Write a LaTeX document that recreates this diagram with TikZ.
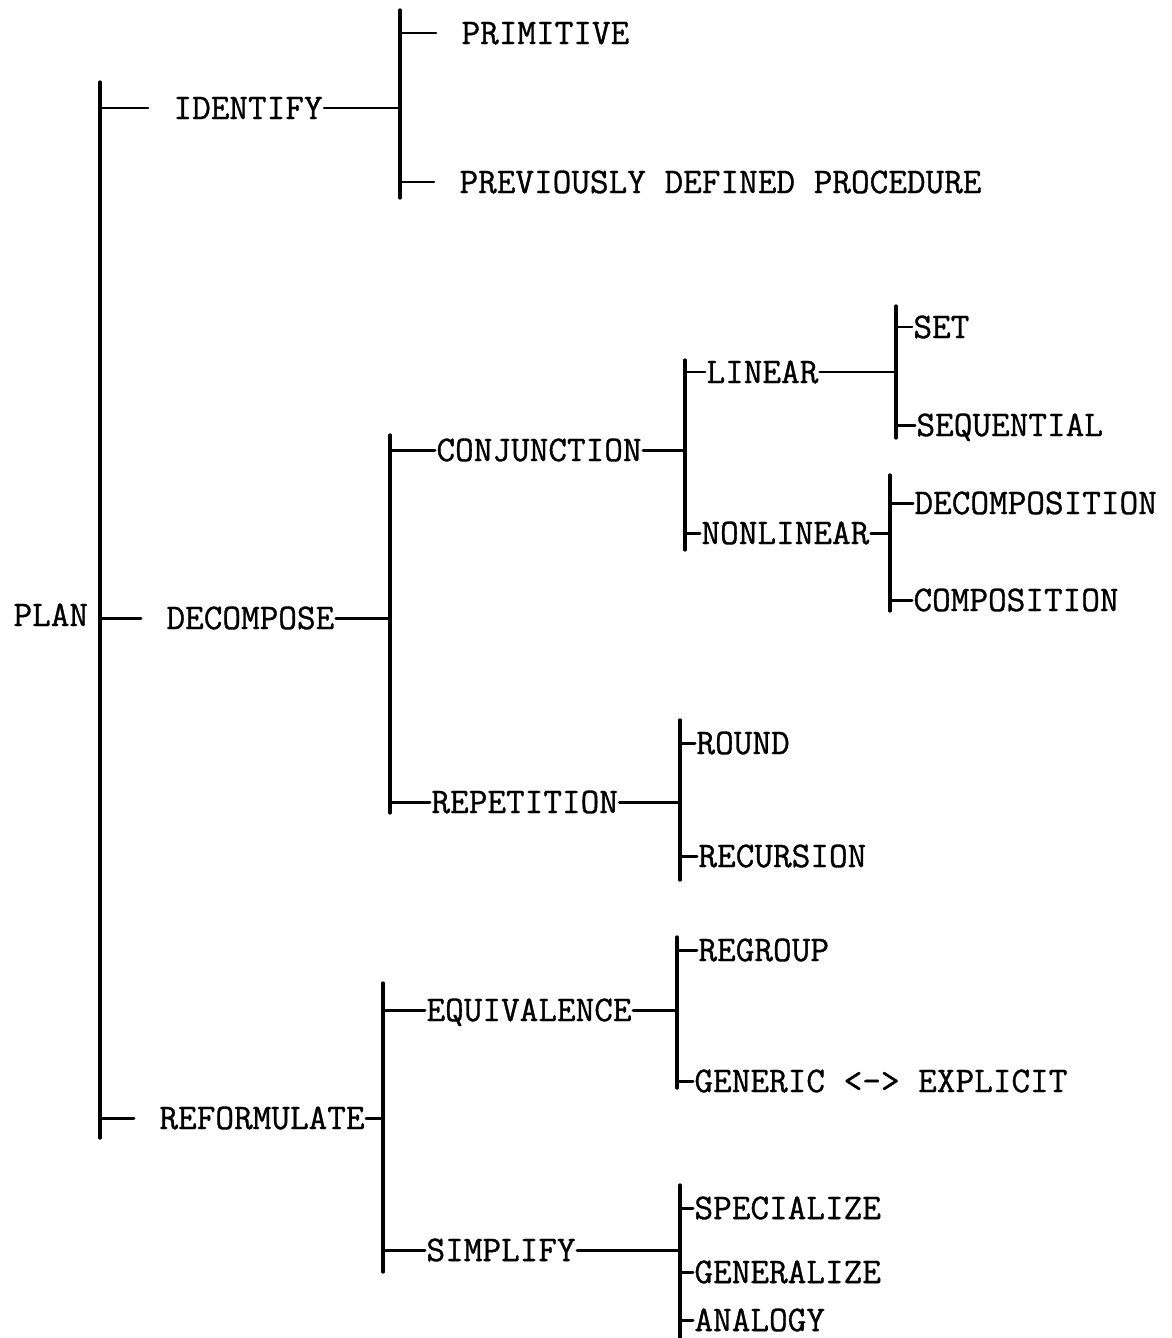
\documentclass[tikz,border=0pt]{standalone}
\usepackage{fontspec}
\setmonofont{Latin Modern Mono}[FakeBold=0.9]
\usetikzlibrary{calc}

\tikzset{
    item/.style={anchor=west, inner sep=0pt, font=\ttfamily\fontsize{20.6}{24}\selectfont,
                 text height=12.6pt, text depth=0pt},
    bar/.style={line width=1.9pt},
    gap/.style={shorten >=4.8mm},
}

\begin{document}
\begin{tikzpicture}[x=0.2mm, y=-0.2mm, line width=1.7pt, line cap=round]

    \useasboundingbox (0,0) rectangle (1172,1338);

    % Labels (west end of the text)
    \node[item] (plan)          at (12,615)   {PLAN};
    \node[item] (identify)      at (172,108)  {IDENTIFY};
    \node[item] (decompose)     at (165,618)  {DECOMPOSE};
    \node[item] (reformulate)   at (158,1118) {REFORMULATE};
    \node[item] (primitive)     at (460,33)   {PRIMITIVE};
    \node[item] (previously)    at (458,182)  {PREVIOUSLY DEFINED PROCEDURE};
    \node[item] (conjunction)   at (435,450)  {CONJUNCTION};
    \node[item] (repetition)    at (430,802)  {REPETITION};
    \node[item] (linear)        at (705,372)  {LINEAR};
    \node[item] (nonlinear)     at (700,533)  {NONLINEAR};
    \node[item] (set)           at (912,327)  {SET};
    \node[item] (sequential)    at (915,425)  {SEQUENTIAL};
    \node[item] (decomposition) at (913,503)  {DECOMPOSITION};
    \node[item] (composition)   at (912,600)  {COMPOSITION};
    \node[item] (round)         at (695,743)  {ROUND};
    \node[item] (recursion)     at (697,856)  {RECURSION};
    \node[item] (equivalence)   at (425,1010) {EQUIVALENCE};
    \node[item] (simplify)      at (425,1250) {SIMPLIFY};
    \node[item] (regroup)       at (697,950)  {REGROUP};
    \node[item] (generic)       at (693,1081) {GENERIC <-> EXPLICIT};
    \node[item] (specialize)    at (693,1208) {SPECIALIZE};
    \node[item] (generalize)    at (693,1272) {GENERALIZE};
    \node[item] (analogy)       at (693,1320) {ANALOGY};

    % Vertical bars: name/x/top/bottom
    \foreach \b/\x/\t/\u in {planbar/100/82/1138, identbar/400/10/198,
                             decbar/390/435/813, conjbar/685/360/550,
                             linbar/896/306/438, nonbar/890/475/611,
                             repbar/680/720/880, refbar/383/983/1272,
                             eqbar/677/937/1088, simbar/680/1185/1338} {
        \coordinate (\b-t) at (\x,\t);
        \coordinate (\b-b) at (\x,\u);
        \draw[bar] (\b-t) -- (\b-b);
    }

    % Parent to its bar
    \foreach \p/\b in {identify/identbar, decompose/decbar, conjunction/conjbar,
                       linear/linbar, nonlinear/nonbar, repetition/repbar,
                       reformulate/refbar, equivalence/eqbar, simplify/simbar} {
        \draw (\p.east) -- (\b-t |- \p.east);
    }

    % Bar to children, short ticks with a gap
    \foreach \b/\c in {planbar/identify, planbar/decompose, planbar/reformulate,
                       identbar/primitive, identbar/previously} {
        \draw[gap] (\b-t |- \c.west) -- (\c.west);
    }

    % Bar to children, touching the text
    \foreach \b/\c in {decbar/conjunction, decbar/repetition,
                       conjbar/linear, conjbar/nonlinear,
                       linbar/set, linbar/sequential,
                       nonbar/decomposition, nonbar/composition,
                       repbar/round, repbar/recursion,
                       refbar/equivalence, refbar/simplify,
                       eqbar/regroup, eqbar/generic,
                       simbar/specialize, simbar/generalize, simbar/analogy} {
        \draw (\b-t |- \c.west) -- (\c.west);
    }

\end{tikzpicture}
\end{document}
